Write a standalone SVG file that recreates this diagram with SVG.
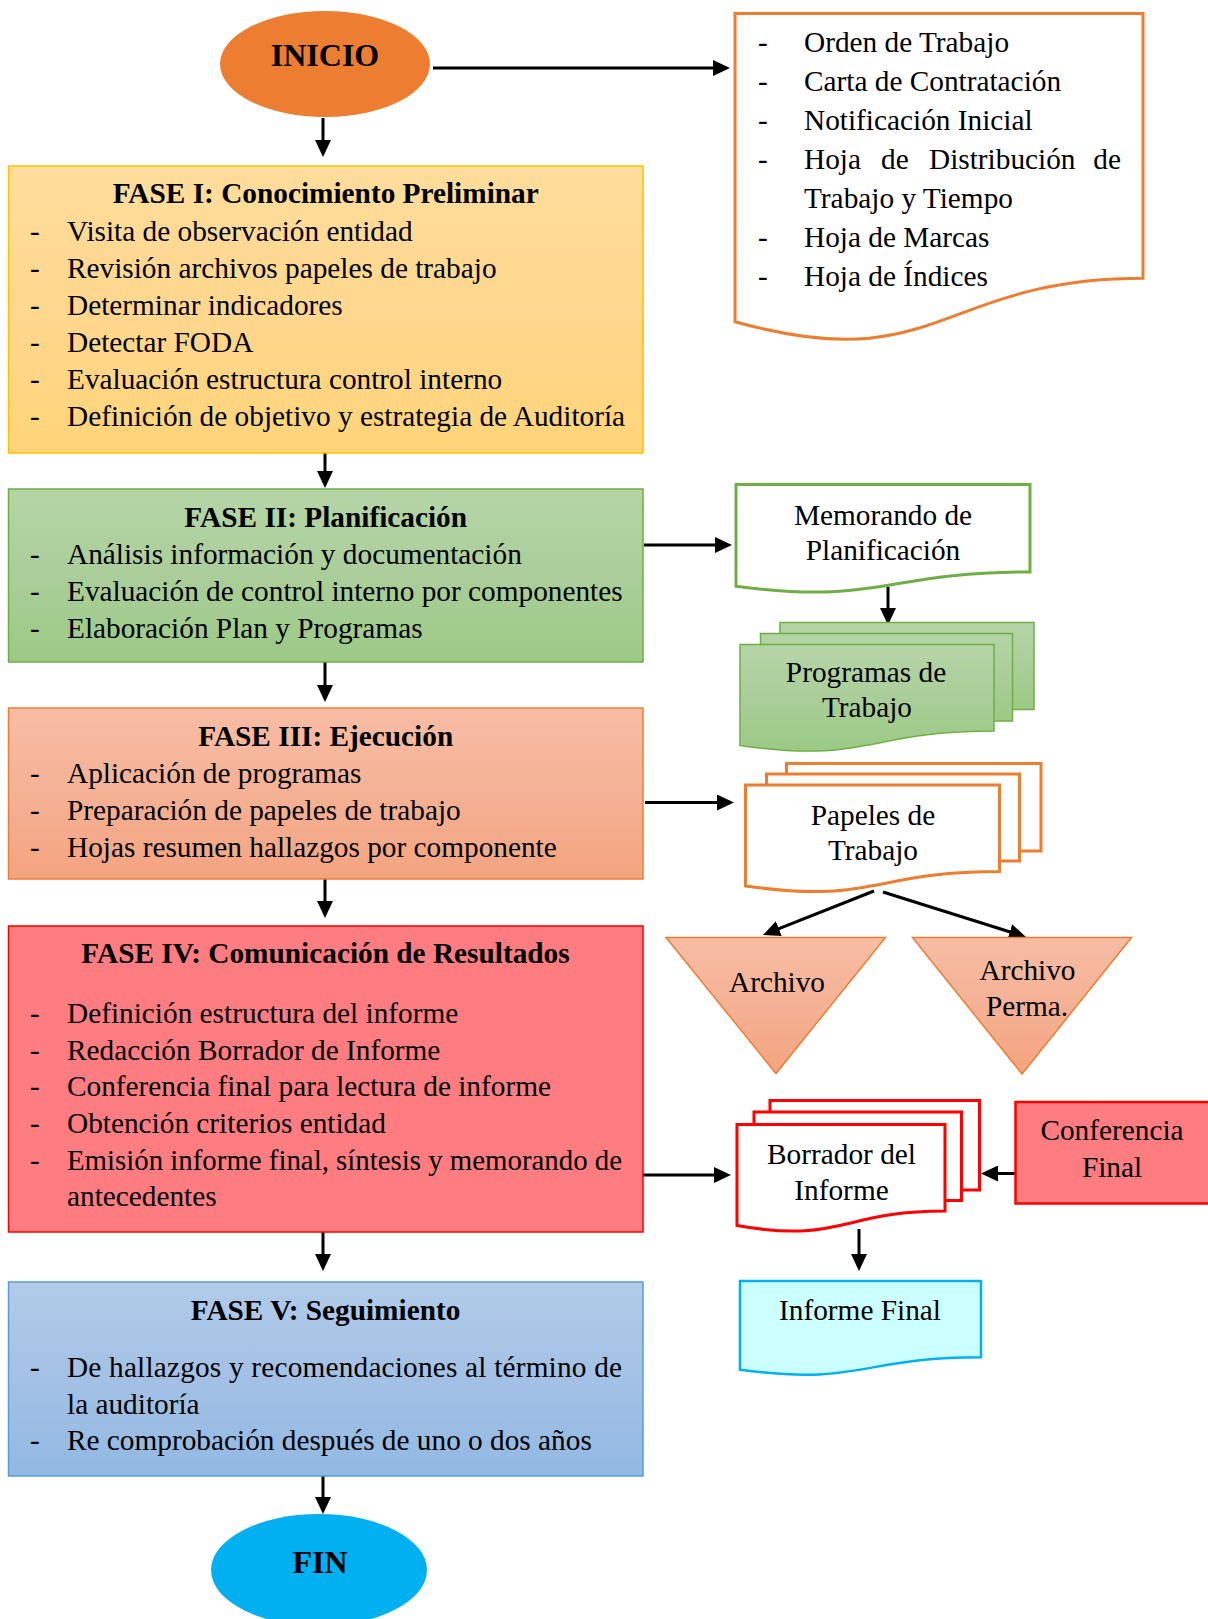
<svg xmlns="http://www.w3.org/2000/svg" width="1208" height="1619" viewBox="0 0 1208 1619">
<defs>
<linearGradient id="gGold" x1="0" y1="0" x2="0" y2="1"><stop offset="0" stop-color="#FFDD9C"/><stop offset="0.5" stop-color="#FFD78E"/><stop offset="1" stop-color="#FFD479"/></linearGradient>
<linearGradient id="gGreen" x1="0" y1="0" x2="0" y2="1"><stop offset="0" stop-color="#B5D5A7"/><stop offset="0.5" stop-color="#AACE99"/><stop offset="1" stop-color="#9CCA86"/></linearGradient>
<linearGradient id="gOrange" x1="0" y1="0" x2="0" y2="1"><stop offset="0" stop-color="#F7BDA4"/><stop offset="0.5" stop-color="#F5B195"/><stop offset="1" stop-color="#F4A47F"/></linearGradient>
<linearGradient id="gBlue" x1="0" y1="0" x2="0" y2="1"><stop offset="0" stop-color="#B1CBE9"/><stop offset="0.5" stop-color="#A3C1E5"/><stop offset="1" stop-color="#92B9E3"/></linearGradient>
<marker id="arr" markerUnits="userSpaceOnUse" markerWidth="17" markerHeight="16" refX="8" refY="8" orient="auto"><path d="M0,0 L17,8 L0,16 Z" fill="#000"/></marker>
</defs>
<style>
text{font-family:"Liberation Serif","Times New Roman",serif;font-size:29.3px;fill:#000}
.b{font-weight:bold}
.c{text-anchor:middle}
.big{font-size:32px;font-weight:bold;text-anchor:middle}
.con line{stroke:#000;stroke-width:3;marker-end:url(#arr)}
</style>

<g id="connectors" class="con">
<line x1="433" y1="68" x2="721" y2="68"/>
<line x1="323" y1="118" x2="323" y2="148"/>
<line x1="325" y1="453" x2="325" y2="479"/>
<line x1="644" y1="545" x2="723" y2="545"/>
<line x1="888" y1="587" x2="888" y2="616"/>
<line x1="325" y1="662" x2="325" y2="693"/>
<line x1="645" y1="802.5" x2="725" y2="802.5"/>
<line x1="874" y1="891" x2="771.4" y2="931.6"/>
<line x1="883" y1="892" x2="1017.4" y2="934.3"/>
<line x1="325" y1="879" x2="325" y2="909"/>
<line x1="643" y1="1175" x2="722" y2="1175"/>
<line x1="1015" y1="1173.5" x2="990" y2="1173.5"/>
<line x1="859" y1="1229" x2="859" y2="1262"/>
<line x1="323" y1="1232" x2="323" y2="1262"/>
<line x1="323" y1="1476" x2="323" y2="1505"/>
</g>

<g id="inicio">
<ellipse cx="325" cy="64" rx="105" ry="53" fill="#ED7D31"/>
<text class="big" x="325" y="66">INICIO</text>
</g>

<g id="docs-inicio">
<path d="M735,13.5 H1143 V278.2 C939,278.2 939,379 735,321.7 Z" fill="#fff" stroke="#ED7D31" stroke-width="3"/>
<text x="758" y="52">-</text><text x="804" y="52">Orden de Trabajo</text>
<text x="758" y="91">-</text><text x="804" y="91">Carta de Contratación</text>
<text x="758" y="130">-</text><text x="804" y="130">Notificación Inicial</text>
<text x="758" y="169">-</text><text x="804" y="169">Hoja</text><text x="881" y="169">de</text><text x="929" y="169">Distribución</text><text x="1121" y="169" text-anchor="end">de</text>
<text x="804" y="208">Trabajo y Tiempo</text>
<text x="758" y="247">-</text><text x="804" y="247">Hoja de Marcas</text>
<text x="758" y="286">-</text><text x="804" y="286">Hoja de Índices</text>
</g>

<g id="fase1">
<rect x="8.5" y="166" width="634.5" height="287" fill="url(#gGold)" stroke="#FFC000" stroke-width="1.5"/>
<text class="b c" x="325.7" y="203">FASE I: Conocimiento Preliminar</text>
<text x="30" y="240.5">-</text><text x="67" y="240.5">Visita de observación entidad</text>
<text x="30" y="277.5">-</text><text x="67" y="277.5">Revisión archivos papeles de trabajo</text>
<text x="30" y="314.5">-</text><text x="67" y="314.5">Determinar indicadores</text>
<text x="30" y="351.5">-</text><text x="67" y="351.5">Detectar FODA</text>
<text x="30" y="388.5">-</text><text x="67" y="388.5">Evaluación estructura control interno</text>
<text x="30" y="425.5">-</text><text x="67" y="425.5">Definición de objetivo y estrategia de Auditoría</text>
</g>

<g id="fase2">
<rect x="8.5" y="489" width="634.5" height="173" fill="url(#gGreen)" stroke="#70AD47" stroke-width="1.5"/>
<text class="b c" x="325.7" y="526.5">FASE II: Planificación</text>
<text x="30" y="564">-</text><text x="67" y="564">Análisis información y documentación</text>
<text x="30" y="600.5">-</text><text x="67" y="600.5">Evaluación de control interno por componentes</text>
<text x="30" y="637.5">-</text><text x="67" y="637.5">Elaboración Plan y Programas</text>
</g>

<g id="memorando">
<path d="M736,484.5 H1030 V571.9 C883,571.9 883,605.2 736,586.3 Z" fill="#fff" stroke="#70AD47" stroke-width="3"/>
<text class="c" x="883" y="524.5">Memorando de</text>
<text class="c" x="883" y="560">Planificación</text>
</g>

<g id="programas">
<rect x="780" y="622.5" width="254" height="87" fill="url(#gGreen)" stroke="#70AD47" stroke-width="1.5"/>
<rect x="760.5" y="633.5" width="252" height="87.5" fill="url(#gGreen)" stroke="#70AD47" stroke-width="1.5"/>
<path d="M740,644.5 H994 V731.1 C867,731.1 867,764.1 740,745.4 Z" fill="url(#gGreen)" stroke="#70AD47" stroke-width="1.5"/>
<text class="c" x="866" y="681.5">Programas de</text>
<text class="c" x="867" y="716.5">Trabajo</text>
</g>

<g id="fase3">
<rect x="8.5" y="708" width="634.5" height="171" fill="url(#gOrange)" stroke="#ED7D31" stroke-width="1.5"/>
<text class="b c" x="325.7" y="746">FASE III: Ejecución</text>
<text x="30" y="783">-</text><text x="67" y="783">Aplicación de programas</text>
<text x="30" y="820">-</text><text x="67" y="820">Preparación de papeles de trabajo</text>
<text x="30" y="856.5">-</text><text x="67" y="856.5">Hojas resumen hallazgos por componente</text>
</g>

<g id="papeles">
<rect x="786.5" y="763.5" width="254.5" height="87.5" fill="#fff" stroke="#ED7D31" stroke-width="3"/>
<rect x="766.5" y="774" width="253" height="87" fill="#fff" stroke="#ED7D31" stroke-width="3"/>
<path d="M745.5,785 H999.5 V871.6 C872.5,871.6 872.5,904.6 745.5,885.9 Z" fill="#fff" stroke="#ED7D31" stroke-width="3"/>
<text class="c" x="873" y="824.5">Papeles de</text>
<text class="c" x="873" y="860">Trabajo</text>
</g>

<g id="archivo">
<path d="M666,937.5 H885.5 L776,1073.5 Z" fill="url(#gOrange)" stroke="#ED7D31" stroke-width="1.5"/>
<text class="c" x="777" y="991.5">Archivo</text>
</g>

<g id="archivo-perma">
<path d="M912.5,937.5 H1131.5 L1022,1074 Z" fill="url(#gOrange)" stroke="#ED7D31" stroke-width="1.5"/>
<text class="c" x="1027.5" y="980">Archivo</text>
<text class="c" x="1027" y="1016">Perma.</text>
</g>

<g id="fase4">
<rect x="8.5" y="926" width="634.5" height="306" fill="#FF7C80" stroke="#FF0000" stroke-width="1.5"/>
<text class="b c" x="325.5" y="963">FASE IV: Comunicación de Resultados</text>
<text x="30" y="1022.5">-</text><text x="67" y="1022.5">Definición estructura del informe</text>
<text x="30" y="1059.5">-</text><text x="67" y="1059.5">Redacción Borrador de Informe</text>
<text x="30" y="1096">-</text><text x="67" y="1096">Conferencia final para lectura de informe</text>
<text x="30" y="1133">-</text><text x="67" y="1133">Obtención criterios entidad</text>
<text x="30" y="1169.5">-</text><text x="67" y="1169.5" textLength="555" lengthAdjust="spacingAndGlyphs">Emisión informe final, síntesis y memorando de</text>
<text x="67" y="1206">antecedentes</text>
</g>

<g id="borrador">
<rect x="770" y="1100.5" width="209.5" height="89.5" fill="#fff" stroke="#FF0000" stroke-width="3"/>
<rect x="754" y="1112" width="207.5" height="88.5" fill="#fff" stroke="#FF0000" stroke-width="3"/>
<path d="M737,1124.5 H945 V1211.1 C841,1211.1 841,1244.1 737,1225.4 Z" fill="#fff" stroke="#FF0000" stroke-width="3"/>
<text class="c" x="841.5" y="1163.5">Borrador del</text>
<text class="c" x="841.5" y="1199.5">Informe</text>
</g>

<g id="conferencia">
<rect x="1015.5" y="1102" width="200" height="101.5" fill="#FF7C80" stroke="#FF0000" stroke-width="2.5"/>
<text class="c" x="1112" y="1140">Conferencia</text>
<text class="c" x="1112" y="1176.5">Final</text>
</g>

<g id="informe-final">
<path d="M740,1281 H981 V1357.2 C860.5,1357.2 860.5,1386.2 740,1369.7 Z" fill="#CCFFFF" stroke="#00B0F0" stroke-width="2.5"/>
<text class="c" x="860" y="1320">Informe Final</text>
</g>

<g id="fase5">
<rect x="8.5" y="1282" width="634.5" height="194" fill="url(#gBlue)" stroke="#5B9BD5" stroke-width="1.5"/>
<text class="b c" x="325.5" y="1320">FASE V: Seguimiento</text>
<text x="30" y="1376.5">-</text><text x="67" y="1376.5" textLength="555" lengthAdjust="spacing">De hallazgos y recomendaciones al término de</text>
<text x="67" y="1413.5">la auditoría</text>
<text x="30" y="1450">-</text><text x="67" y="1450">Re comprobación después de uno o dos años</text>
</g>

<g id="fin">
<ellipse cx="319" cy="1570" rx="108" ry="56" fill="#00B0F0"/>
<text class="big" x="320" y="1573">FIN</text>
</g>
</svg>
